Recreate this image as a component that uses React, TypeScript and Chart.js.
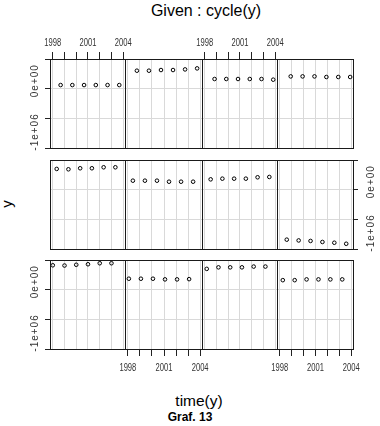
import React, { useEffect, useRef } from 'react';
import { Chart, registerables } from 'chart.js';

Chart.register(...registerables);

// ---- data ----
const years = [1998, 1999, 2000, 2001, 2002, 2003];
const cycle1 = [320000, 315000, 330000, 340000, 360000, 360000];
const cycle2 = [58000, 58000, 58000, 45000, 45000, 50000];
const cycle3 = [250000, 280000, 280000, 280000, 295000, 295000];
const cycle4 = [30000, 30000, 45000, 45000, 45000, 45000];
const cycle5 = [249000, 242000, 262000, 262000, 281000, 281000];
const cycle6 = [20000, 20000, 20000, 0, 0, 0];
const cycle7 = [46000, 59000, 59000, 59000, 86000, 92000];
const cycle8 = [-1130000, -1145000, -1155000, -1175000, -1190000, -1210000];
const cycle9 = [-85000, -85000, -85000, -85000, -85000, -85000];
const cycle10 = [195000, 195000, 208000, 208000, 220000, 240000];
const cycle11 = [33000, 33000, 33000, 33000, 33000, 20000];
const cycle12 = [84000, 84000, 84000, 72000, 72000, 72000];
const cycles = [cycle1, cycle2, cycle3, cycle4, cycle5, cycle6, cycle7, cycle8, cycle9, cycle10, cycle11, cycle12];

const xTickLabels = ['1998', '2001', '2004'];
const yTickValues = [0, -1000000];
const yTickTexts = ['0e+00', '-1e+06'];

const X_MIN = 1997.763;
const X_MAX = 2004.154;
const Y_MIN = -1312000;
const Y_MAX = 423000;

// ---- layout ----
const colLeft = [50, 125, 202, 277];
const colRight = [125, 202, 277, 353];
const rowTop = [59, 160, 260];
const rowBottom = [148, 249, 349];
const M = 30;

const FONT = '"Liberation Sans", Arial, Helvetica, sans-serif';

type PanelProps = { cycle: number };

function Panel({ cycle }: PanelProps) {
  const ref = useRef<HTMLCanvasElement>(null);
  const row = 2 - Math.floor((cycle - 1) / 4);
  const col = (cycle - 1) % 4;
  const left = colLeft[col];
  const right = colRight[col];
  const top = rowTop[row];
  const bottom = rowBottom[row];
  const W = right - left + 2 * M;
  const H = bottom - top + 2 * M;

  useEffect(() => {
    if (!ref.current) return;
    const xTop = row === 0 && col % 2 === 0;
    const xBottom = row === 2 && col % 2 === 1;
    const yLeft = row !== 1 && col === 0;
    const yRight = row === 1 && col === 3;
    const hasX = xTop || xBottom;
    const hasY = yLeft || yRight;
    const xPos = xBottom ? 'bottom' : 'top';
    const yPos = yRight ? 'right' : 'left';
    const values = cycles[cycle - 1];

    const chart = new Chart(ref.current, {
      type: 'scatter',
      data: {
        datasets: [
          {
            data: years.map((yr, i) => ({ x: yr + (cycle - 1) / 12, y: values[i] })),
            pointStyle: 'circle',
            pointRadius: 1.8,
            pointBorderWidth: 1,
            borderColor: '#000',
            backgroundColor: 'rgba(0,0,0,0)',
            showLine: false,
          },
        ],
      },
      options: {
        animation: false,
        responsive: false,
        maintainAspectRatio: false,
        devicePixelRatio: 1,
        events: [],
        layout: {
          padding: {
            left: yPos === 'right' ? M : 0,
            right: yPos === 'left' ? M : 0,
            top: xPos === 'bottom' ? M : 0,
            bottom: xPos === 'top' ? M : 0,
          },
        },
        plugins: { legend: { display: false }, tooltip: { enabled: false }, title: { display: false } },
        scales: {
          x: {
            type: 'linear',
            position: xPos,
            min: X_MIN,
            max: X_MAX,
            ticks: { display: false, stepSize: 1, includeBounds: false, autoSkip: false },
            grid: { color: '#d9d9d9', lineWidth: 1, drawTicks: hasX, tickLength: 7, tickColor: '#222', tickWidth: 1 },
            border: { display: false },
            afterFit: (s: any) => { s.height = M; },
          },
          y: {
            type: 'linear',
            position: yPos,
            min: Y_MIN,
            max: Y_MAX,
            ticks: { display: false, stepSize: 500000, includeBounds: false },
            grid: { color: '#d9d9d9', lineWidth: 1, drawTicks: hasY, tickLength: 5, tickColor: '#222', tickWidth: 1 },
            border: { display: false },
            afterFit: (s: any) => { s.width = M; },
          },
        },
      },
      plugins: [
        {
          id: 'panelDecor',
          afterDraw(c: any) {
            const { ctx, chartArea: ca, scales } = c;
            ctx.save();
            ctx.strokeStyle = '#1a1a1a';
            ctx.lineWidth = 1;
            ctx.strokeRect(ca.left + 0.5, ca.top + 0.5, ca.right - ca.left, ca.bottom - ca.top);
            ctx.fillStyle = '#333';
            if (hasX) {
              ctx.font = `10px ${FONT}`;
              ctx.textAlign = 'center';
              ctx.textBaseline = 'middle';
              const ly = xTop ? ca.top - 16 : ca.bottom + 19;
              for (const t of scales.x.ticks) {
                const lbl = String(Math.round(t.value));
                if (!xTickLabels.includes(lbl)) continue;
                const px = scales.x.getPixelForValue(t.value);
                ctx.save();
                ctx.translate(px, ly);
                ctx.scale(0.76, 1);
                ctx.fillText(lbl, 0, 0);
                ctx.restore();
              }
            }
            if (hasY) {
              ctx.font = `10px ${FONT}`;
              ctx.textAlign = 'center';
              ctx.textBaseline = 'middle';
              try { (ctx as any).letterSpacing = '1px'; } catch (e) {}
              const lx = yLeft ? ca.left - 14.5 : ca.right + 18.5;
              yTickValues.forEach((v, i) => {
                const py = scales.y.getPixelForValue(v);
                ctx.save();
                ctx.translate(lx, py);
                ctx.rotate(-Math.PI / 2);
                ctx.fillText(yTickTexts[i], 0, 0);
                ctx.restore();
              });
            }
            ctx.restore();
          },
        },
      ],
    } as any);
    return () => chart.destroy();
  }, [cycle]);

  return (
    <canvas
      ref={ref}
      width={W}
      height={H}
      style={{ position: 'absolute', left: left - M, top: top - M, width: W, height: H }}
    />
  );
}

const panels = [1, 2, 3, 4, 5, 6, 7, 8, 9, 10, 11, 12];

export default function App() {
  return (
    <div
      style={{
        position: 'fixed',
        left: 0,
        top: 0,
        width: 380,
        height: 426,
        background: '#fff',
        overflow: 'hidden',
        fontFamily: FONT,
        color: '#000',
      }}
    >
      <div
        style={{
          position: 'absolute', left: 206, top: 2.5, transform: 'translateX(-50%)',
          fontSize: 16, lineHeight: '16px', whiteSpace: 'nowrap',
        }}
      >
        Given : cycle(y)
      </div>
      <div
        style={{
          position: 'absolute', left: 6, top: 203.5, transform: 'translate(-50%, -50%) rotate(-90deg)',
          fontSize: 15, lineHeight: '15px', whiteSpace: 'nowrap',
        }}
      >
        y
      </div>
      <div
        style={{
          position: 'absolute', left: 199, top: 393, transform: 'translateX(-50%)',
          fontSize: 15.5, lineHeight: '15.5px', whiteSpace: 'nowrap',
        }}
      >
        time(y)
      </div>
      <div
        style={{
          position: 'absolute', left: 190, top: 411, transform: 'translateX(-50%)',
          fontSize: 12, lineHeight: '12px', fontWeight: 'bold', whiteSpace: 'nowrap',
        }}
      >
        Graf. 13
      </div>
      {panels.map((c) => (
        <Panel key={c} cycle={c} />
      ))}
    </div>
  );
}
